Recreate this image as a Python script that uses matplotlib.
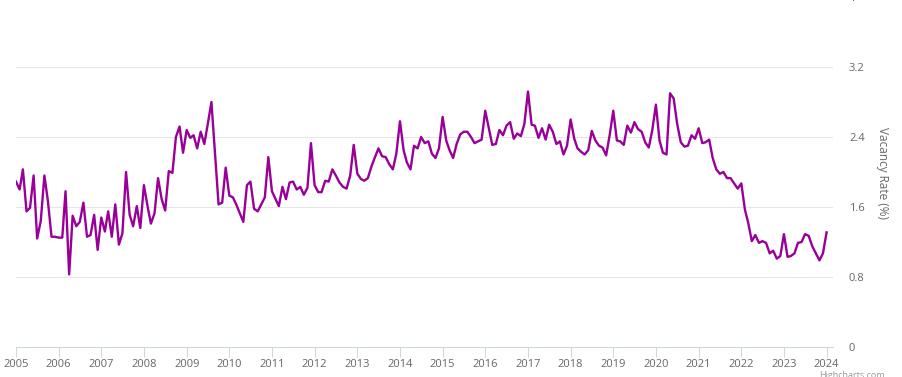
import matplotlib
matplotlib.use('Agg')
import matplotlib.pyplot as plt
import matplotlib.dates as mdates
import pandas as pd

plt.rcParams['font.family'] = ['Open Sans', 'DejaVu Sans']

# monthly vacancy rate (%), Jan 2005 .. Jan 2024
rate_2005 = [1.89, 1.80, 2.03, 1.55, 1.59, 1.96, 1.24, 1.44, 1.96, 1.67, 1.26, 1.26]
rate_2006 = [1.25, 1.25, 1.78, 0.83, 1.50, 1.38, 1.43, 1.65, 1.26, 1.28, 1.51, 1.11]
rate_2007 = [1.48, 1.32, 1.55, 1.26, 1.63, 1.17, 1.30, 2.00, 1.51, 1.38, 1.61, 1.36]
rate_2008 = [1.85, 1.61, 1.41, 1.53, 1.93, 1.69, 1.56, 2.01, 1.99, 2.40, 2.52, 2.22]
rate_2009 = [2.48, 2.39, 2.42, 2.27, 2.46, 2.32, 2.55, 2.80, 2.20, 1.63, 1.65, 2.05]
rate_2010 = [1.73, 1.71, 1.63, 1.53, 1.43, 1.85, 1.89, 1.58, 1.55, 1.63, 1.71, 2.17]
rate_2011 = [1.78, 1.69, 1.61, 1.83, 1.69, 1.88, 1.89, 1.80, 1.83, 1.74, 1.82, 2.33]
rate_2012 = [1.85, 1.77, 1.77, 1.90, 1.89, 2.03, 1.96, 1.88, 1.83, 1.81, 1.96, 2.31]
rate_2013 = [1.98, 1.92, 1.90, 1.93, 2.06, 2.17, 2.27, 2.18, 2.17, 2.09, 2.03, 2.21]
rate_2014 = [2.58, 2.25, 2.11, 2.03, 2.30, 2.27, 2.40, 2.33, 2.35, 2.21, 2.16, 2.27]
rate_2015 = [2.63, 2.36, 2.25, 2.16, 2.32, 2.43, 2.46, 2.46, 2.40, 2.33, 2.35, 2.37]
rate_2016 = [2.70, 2.50, 2.31, 2.32, 2.48, 2.42, 2.53, 2.57, 2.38, 2.44, 2.41, 2.55]
rate_2017 = [2.92, 2.54, 2.53, 2.39, 2.50, 2.37, 2.54, 2.46, 2.32, 2.35, 2.20, 2.30]
rate_2018 = [2.60, 2.38, 2.27, 2.23, 2.20, 2.25, 2.47, 2.36, 2.30, 2.28, 2.19, 2.42]
rate_2019 = [2.70, 2.36, 2.35, 2.31, 2.53, 2.45, 2.57, 2.49, 2.46, 2.34, 2.28, 2.48]
rate_2020 = [2.77, 2.36, 2.22, 2.20, 2.90, 2.84, 2.55, 2.34, 2.29, 2.30, 2.42, 2.38]
rate_2021 = [2.50, 2.33, 2.34, 2.37, 2.16, 2.03, 1.98, 2.00, 1.93, 1.93, 1.87, 1.81]
rate_2022 = [1.87, 1.57, 1.42, 1.21, 1.28, 1.19, 1.21, 1.19, 1.07, 1.10, 1.01, 1.04]
rate_2023 = [1.29, 1.03, 1.04, 1.07, 1.19, 1.20, 1.29, 1.27, 1.15, 1.07, 0.99, 1.07]
rate_2024 = [1.31]

rate = (rate_2005 + rate_2006 + rate_2007 + rate_2008 + rate_2009 + rate_2010
        + rate_2011 + rate_2012 + rate_2013 + rate_2014 + rate_2015 + rate_2016
        + rate_2017 + rate_2018 + rate_2019 + rate_2020 + rate_2021 + rate_2022
        + rate_2023 + rate_2024)
months = pd.date_range('2005-01-01', periods=len(rate), freq='MS')

y_ticks = [0, 0.8, 1.6, 2.4, 3.2, 4]
y_tick_labels = ['0', '0.8', '1.6', '2.4', '3.2', '4']
years = list(range(2005, 2025))

W, H = 903, 377
fig = plt.figure(figsize=(W / 100, H / 100), dpi=100)
# top of the plot area sits just above the picture (the "4" is cut off)
ax = fig.add_axes([16 / W, 30 / H, (833 - 16) / W, 350 / H])

ax.plot(months, rate, color='#990099', linewidth=1.7, solid_joinstyle='round')

# y axis on the right, light grid
ax.set_ylim(0, 4)
ax.set_yticks(y_ticks)
ax.set_yticklabels(y_tick_labels)
ax.yaxis.tick_right()
ax.tick_params(axis='y', length=0, pad=11.5, labelsize=8, labelcolor='#666666')
ax.grid(axis='y', color='#e6e6e6', linewidth=0.75)
ax.set_axisbelow(True)

# x axis with yearly ticks
ax.set_xlim(pd.Timestamp('2005-01-01'), pd.Timestamp('2024-02-25'))
ax.set_xticks([pd.Timestamp(f'{y}-01-01') for y in years])
ax.xaxis.set_major_formatter(mdates.DateFormatter('%Y'))
ax.tick_params(axis='x', length=7, width=0.75, color='#ccd6eb', pad=1.5,
               labelsize=8, labelcolor='#666666')

for side in ['left', 'right', 'top']:
    ax.spines[side].set_visible(False)
ax.spines['bottom'].set_color('#ccd6eb')
ax.spines['bottom'].set_linewidth(0.75)

# axis titles (left one is cut off in the original)
fig.text(883 / W, 1 - 173 / H, 'Vacancy Rate (%)', rotation=270, ha='center',
         va='center', fontsize=8.5, color='#666666')
fig.text(-3 / W, 1 - 172 / H, 'Vacancies', rotation=90, ha='center',
         va='center', fontsize=8.5, color='#666666')

fig.text(885 / W, 6 / H, 'Highcharts.com', ha='right', va='top',
         fontsize=6.5, color='#999999')

fig.savefig('out.png', dpi=100)
